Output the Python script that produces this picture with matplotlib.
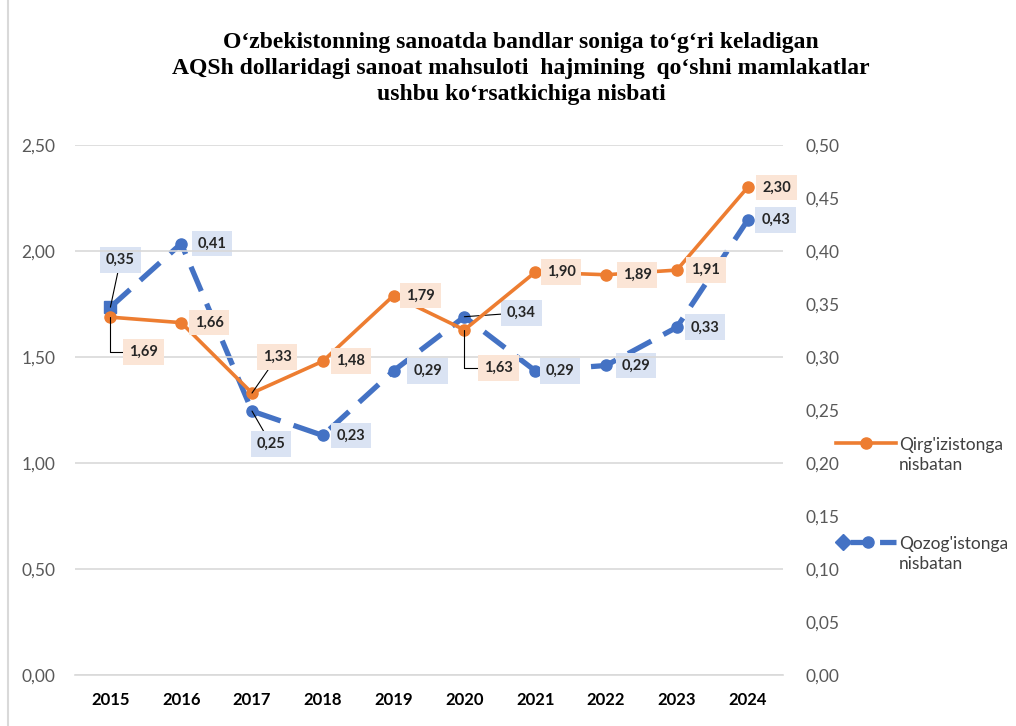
import matplotlib
matplotlib.use("Agg")
import matplotlib.pyplot as plt
from matplotlib.lines import Line2D

years = ["2015", "2016", "2017", "2018", "2019", "2020", "2021", "2022", "2023", "2024"]
kyrgyz = [1.688, 1.662, 1.33, 1.48, 1.79, 1.628, 1.90, 1.888, 1.91, 2.30]
kazakh = [0.347, 0.407, 0.249, 0.226, 0.287, 0.338, 0.287, 0.292, 0.328, 0.429]

left_ticks = [0, 0.5, 1.0, 1.5, 2.0, 2.5]
right_ticks = [0, 0.05, 0.10, 0.15, 0.20, 0.25, 0.30, 0.35, 0.40, 0.45, 0.50]

series_names = ["Qirg'izistonga\nnisbatan", "Qozog'istonga\nnisbatan"]

title = ("O\u2018zbekistonning sanoatda bandlar soniga to\u2018g\u2018ri keladigan\n"
         "AQSh dollaridagi sanoat mahsuloti  hajmining  qo\u2018shni mamlakatlar\n"
         "ushbu ko\u2018rsatkichiga nisbati")

ORANGE = "#ED7D31"
BLUE = "#4472C4"
ORANGE_BG = "#FBE5D6"
BLUE_BG = "#DAE3F3"
DASH = (0, (5, 2.6))

# label offsets in pixels (dx, dy), and leader style
k_off = [(33, -35, "angle"), (28, 0, None), (25, 36, "line"), (28, 0, None), (27, 0, None),
         (34, -38, "angle"), (26, 0, None), (31, 0, None), (29, 0, None), (29, 0, None)]
z_off = [(10, 47, "line"), (31, 0, None), (19, -33, "line"), (28, 0, None), (34, 0, None),
         (57, 4, "line"), (25, 0, None), (30, 0, None), (28, 0, None), (28, 0, None)]

plt.rcParams["font.family"] = ["Lato", "DejaVu Sans"]

W, H = 1016, 726
fig = plt.figure(figsize=(W / 100, H / 100), dpi=100)
ax = fig.add_axes([75 / W, 1 - 675 / H, (783 - 75) / W, (675 - 145) / H])
ax2 = ax.twinx()

x = list(range(len(years)))

ax.set_xlim(-0.5, len(years) - 0.5)
ax.set_ylim(0, 2.5)
ax2.set_ylim(0, 0.5)
ax.set_yticks(left_ticks)
ax2.set_yticks(right_ticks)
ax.set_yticklabels([f"{v:.2f}".replace(".", ",") for v in left_ticks], color="#595959", fontsize=12.5)
ax2.set_yticklabels([f"{v:.2f}".replace(".", ",") for v in right_ticks], color="#595959", fontsize=12.5)
ax.set_xticks(x)
ax.set_xticklabels(years, fontweight="bold", fontsize=12)
ax.grid(axis="y", color="#D9D9D9", lw=1.2)
ax.set_axisbelow(True)
for a in (ax, ax2):
    for s in a.spines.values():
        s.set_visible(False)
    a.tick_params(length=0)
ax.tick_params(axis="y", pad=14)
ax2.tick_params(axis="y", pad=16)
ax.tick_params(axis="x", pad=12)
ax.spines["bottom"].set_visible(True)
ax.spines["bottom"].set_color("#D9D9D9")
ax.spines["bottom"].set_linewidth(1.2)

ax2.plot(x, kazakh, color=BLUE, lw=3.8, ls=DASH, marker="o", ms=8, zorder=2)
ax2.plot(x[:1], kazakh[:1], color=BLUE, marker="s", ms=8, ls="none", zorder=3)
ax2.set_zorder(1)
ax.set_zorder(2)
ax.patch.set_visible(False)
ax.plot(x, kyrgyz, color=ORANGE, lw=2.6, marker="o", ms=8, zorder=3)


def label(axis, xs, ys, offs, bg):
    for xi, yi, (dx, dy, lead) in zip(xs, ys, offs):
        arrow = None
        if lead == "angle":
            arrow = dict(arrowstyle="-", color="black", lw=0.8, shrinkA=0, shrinkB=0,
                         connectionstyle="angle,angleA=0,angleB=90,rad=0")
        elif lead == "line":
            arrow = dict(arrowstyle="-", color="black", lw=0.8, shrinkA=0, shrinkB=0)
        axis.annotate(f"{yi:.2f}".replace(".", ","), (xi, yi), xytext=(dx, dy),
                      textcoords="offset pixels", ha="center", va="center",
                      fontsize=10.5, fontweight="bold", color="#262626",
                      bbox=dict(boxstyle="square,pad=0.4", fc=bg, ec="none"),
                      arrowprops=arrow, zorder=5)


label(ax, x, kyrgyz, k_off, ORANGE_BG)
label(ax2, x, kazakh, z_off, BLUE_BG)

fig.text(0.513, 1 - 32 / H, title, ha="center", va="top", fontsize=17, fontweight="bold",
         family=["Liberation Serif", "DejaVu Serif"], linespacing=1.3)

fig.add_artist(Line2D([8 / W, 8 / W], [0, 1], color="#D9D9D9", lw=1.5))


# legend drawn by hand so the key sits on the first text line
def fx(px):
    return px / W


def fy(py):
    return 1 - py / H


fig.add_artist(Line2D([fx(836), fx(896)], [fy(443), fy(443)], color=ORANGE, lw=2.6))
fig.add_artist(Line2D([fx(866)], [fy(443)], color=ORANGE, marker="o", ms=8))
fig.add_artist(Line2D([fx(850), fx(896)], [fy(542), fy(542)], color=BLUE, lw=3.8, ls=(0, (4, 1.6))))
fig.add_artist(Line2D([fx(843)], [fy(542)], color=BLUE, marker="D", ms=8))
fig.add_artist(Line2D([fx(868)], [fy(542)], color=BLUE, marker="o", ms=8))
for name, py in zip(series_names, [443, 542]):
    fig.text(fx(899), fy(py + 12), name, ha="left", va="center", fontsize=12.5, color="#404040",
             linespacing=1.3)

fig.savefig("out.png", dpi=100)
